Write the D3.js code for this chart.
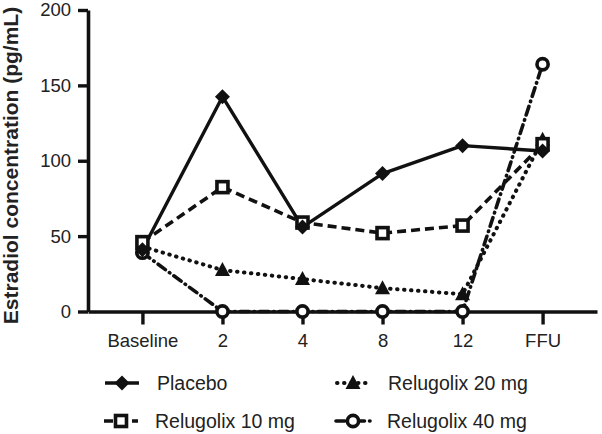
<!DOCTYPE html>
<html><head><meta charset="utf-8">
<script src="https://cdn.jsdelivr.net/npm/d3@7"></script>
<style>
html,body{margin:0;padding:0;background:#fff;}
text{font-family:"Liberation Sans",Arial,Helvetica,sans-serif;fill:#222;}
</style></head>
<body><svg id="c" width="602" height="434"></svg>
<script>
const categories = ["Baseline","2","4","8","12","FFU"];
const yTicks = [0,50,100,150,200];
const seriesNames = ["Placebo","Relugolix 10 mg","Relugolix 20 mg","Relugolix 40 mg"];
const placebo = [41, 142.5, 56, 91.5, 110, 106.5];
const relugolix10 = [46, 82.5, 59, 52, 57, 111];
const relugolix20 = [43, 27.5, 21.5, 15.5, 11.5, 114];
const relugolix40 = [39, 0, 0, 0, 0, 164];
const yTitle = "Estradiol concentration (pg/mL)";

const svg = d3.select("#c");
const x = d3.scalePoint().domain(categories).range([88, 597]).padding(0.68);
const y = d3.scaleLinear().domain([0, 200]).range([311.5, 10]);

const styles = [
  {data: placebo, dash: null, cap: "butt", w: 3.4, marker: "diamond"},
  {data: relugolix10, dash: "9,5", cap: "butt", w: 3.6, marker: "square"},
  {data: relugolix20, dash: "0.5,6.5", cap: "round", w: 4, marker: "triangle"},
  {data: relugolix40, dash: "9,5,0.5,5", cap: "round", w: 3.6, marker: "circle"}
];

// axes
const gy = svg.append("g").attr("transform", "translate(88,0)")
  .call(d3.axisLeft(y).tickValues(yTicks).tickSize(10).tickSizeOuter(0).tickPadding(7));
gy.select(".domain").attr("stroke", "#111").attr("stroke-width", 3.6);
gy.selectAll(".tick line").attr("stroke", "#111").attr("stroke-width", 3.4);
gy.selectAll(".tick text").attr("font-size", 18.5).attr("fill", "#222")
  .attr("font-family", "Liberation Sans, Arial, sans-serif");

const gx = svg.append("g").attr("transform", "translate(0,311.5)")
  .call(d3.axisBottom(x).tickSize(13).tickSizeOuter(0));
gx.select(".domain").attr("stroke", "#111").attr("stroke-width", 3.6);
gx.selectAll(".tick line").attr("stroke", "#111").attr("stroke-width", 3.4);
gx.selectAll(".tick text").attr("font-size", 18.5).attr("fill", "#222")
  .attr("font-family", "Liberation Sans, Arial, sans-serif")
  .attr("y", 35.5).attr("dy", 0);

// y title
svg.append("text")
  .attr("transform", "translate(17.5,165.5) rotate(-90)")
  .attr("text-anchor", "middle")
  .attr("font-size", 21).attr("font-weight", "bold")
  .attr("fill", "#222")
  .text(yTitle);

// lines
const line = d3.line().x((d, i) => x(categories[i])).y(d => y(d));
styles.forEach(s => {
  svg.append("path").datum(s.data)
    .attr("d", line)
    .attr("fill", "none").attr("stroke", "#111")
    .attr("stroke-width", s.w)
    .attr("stroke-linecap", s.cap)
    .attr("stroke-linejoin", "round")
    .attr("stroke-dasharray", s.dash);
});

function drawMarker(g, type, cx, cy) {
  if (type === "diamond") {
    g.append("path").attr("d", `M${cx},${cy-7.5}L${cx+7.5},${cy}L${cx},${cy+7.5}L${cx-7.5},${cy}Z`)
      .attr("fill", "#111");
  } else if (type === "square") {
    g.append("rect").attr("x", cx-5.5).attr("y", cy-5.5).attr("width", 11).attr("height", 11)
      .attr("fill", "#fff").attr("stroke", "#111").attr("stroke-width", 3.6);
  } else if (type === "triangle") {
    g.append("path").attr("d", `M${cx},${cy-8}L${cx+7.5},${cy+6}L${cx-7.5},${cy+6}Z`)
      .attr("fill", "#111");
  } else if (type === "circle") {
    g.append("circle").attr("cx", cx).attr("cy", cy).attr("r", 5.6)
      .attr("fill", "#fff").attr("stroke", "#111").attr("stroke-width", 3.6);
  }
}

// markers: order circles, triangles, squares, diamonds
const markerG = svg.append("g");
[3, 2, 1, 0].forEach(k => {
  const s = styles[k];
  s.data.forEach((v, i) => drawMarker(markerG, s.marker, x(categories[i]), y(v)));
});

// legend
const legendPos = [
  {x0: 105, x1: 139, y: 383, tx: 157},
  {x0: 104, x1: 138, y: 421, tx: 155},
  {x0: 337, x1: 369, y: 383, tx: 388},
  {x0: 336, x1: 370, y: 421, tx: 387}
];
const lg = svg.append("g");
styles.forEach((s, k) => {
  const p = legendPos[k];
  lg.append("line").attr("x1", p.x0).attr("x2", p.x1).attr("y1", p.y).attr("y2", p.y)
    .attr("stroke", "#111").attr("stroke-width", s.w)
    .attr("stroke-linecap", s.cap)
    .attr("stroke-dasharray", s.dash);
  drawMarker(lg, s.marker, (p.x0 + p.x1) / 2, p.y);
  lg.append("text").attr("x", p.tx).attr("y", p.y + 7)
    .attr("font-size", 19.5).attr("fill", "#222")
    .text(seriesNames[k]);
});
</script></body></html>
